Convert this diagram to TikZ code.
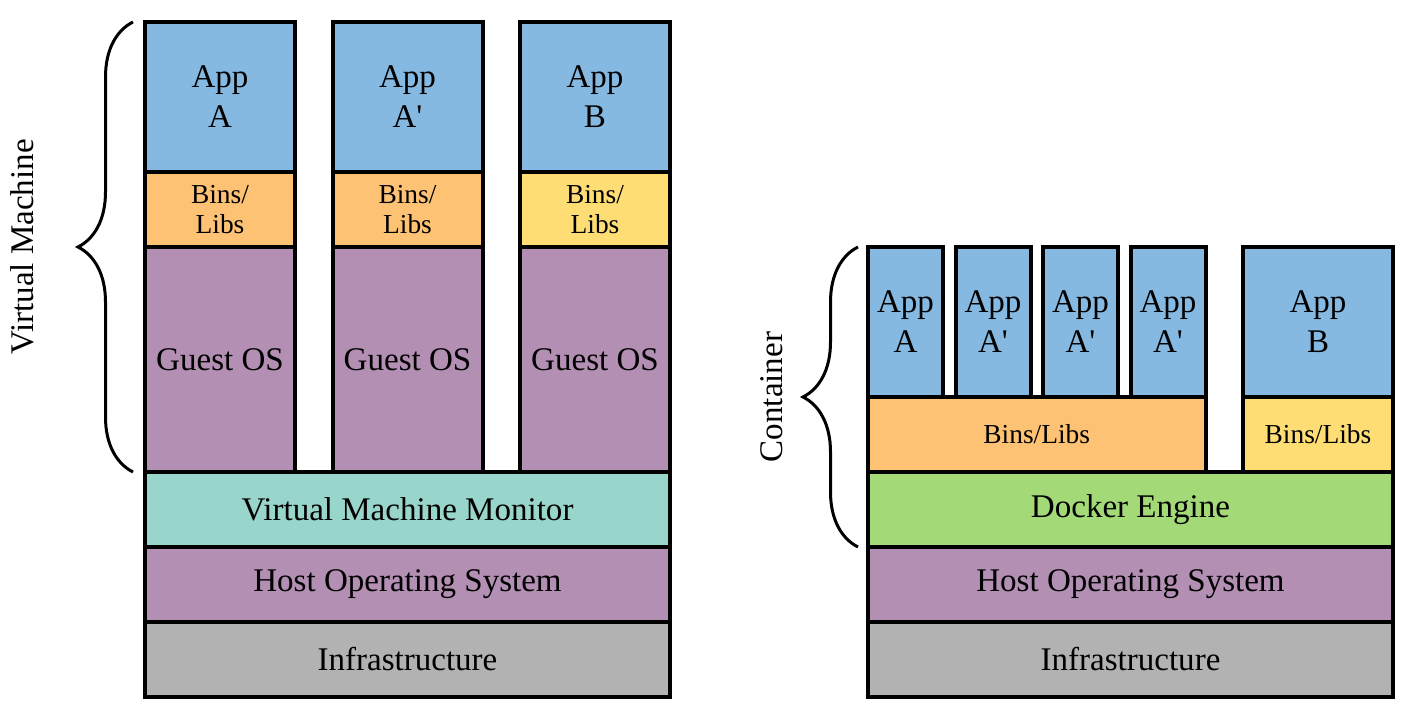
\documentclass[tikz,border=0pt]{standalone}
\usepackage{fontspec}
\setmainfont{Liberation Serif}
\usetikzlibrary{decorations.pathreplacing}
\definecolor{appblue}{HTML}{85B9E2}
\definecolor{binsorange}{HTML}{FDC273}
\definecolor{binsyellow}{HTML}{FEDD75}
\definecolor{ospurple}{HTML}{B38FB3}
\definecolor{vmmteal}{HTML}{98D5CA}
\definecolor{dockergreen}{HTML}{A3D977}
\definecolor{infragray}{HTML}{B2B2B2}
\newcommand*{\BigText}{\fontsize{18.8}{22.8}\selectfont}
\newcommand*{\SmallText}{\fontsize{15.6}{17}\selectfont}
\tikzset{
  layer/.style={draw=black, line width=0.08cm, inner sep=0pt, outer sep=0pt,
    anchor=south west, align=center, font=\BigText},
  brc/.style={decorate, decoration={brace, amplitude=1.1cm}, line width=0.06cm}
}

\begin{document}
\begin{tikzpicture}
            \useasboundingbox (0,0) rectangle (28.06,14.36);
            \foreach \x/\name/\app/\binscol in {2.9/a/A/binsorange,6.65/b/A\textquotesingle/binsorange,10.4/c/B/binsyellow}{
              \node[layer, fill=ospurple, minimum width=3cm, minimum height=4.5cm] (guest\name) at (\x,4.92) {Guest OS};
              \node[layer, fill=\binscol, minimum width=3cm, minimum height=1.5cm, font=\SmallText] (bins\name) at (\x,9.42) {Bins/\\Libs};
              \node[layer, fill=appblue, minimum width=3cm, minimum height=3cm] (app\name) at (\x,10.92) {App\\\app};
            }
            \node[layer, fill=vmmteal, minimum width=10.5cm, minimum height=1.5cm] (vmm) at (2.9,3.42) {Virtual Machine Monitor};
            \node[layer, fill=ospurple, minimum width=10.5cm, minimum height=1.5cm] (hostvm) at (2.9,1.92) {Host Operating System};
            \node[layer, fill=infragray, minimum width=10.5cm, minimum height=1.5cm] (infravm) at (2.9,0.42) {Infrastructure};
            \draw[brc] ([xshift=-0.24cm]guesta.south west) -- ([xshift=-0.24cm]appa.north west);
            \node[rotate=90, font=\BigText] (vmlabel) at (0.44,9.42) {Virtual Machine};
            \foreach \x/\name/\app in {17.36/a/A,19.11/b/A\textquotesingle,20.86/c/A\textquotesingle,22.61/d/A\textquotesingle}{
              \node[layer, fill=appblue, minimum width=1.5cm, minimum height=3cm] (capp\name) at (\x,6.42) {App\\\app};
            }
            \node[layer, fill=binsorange, minimum width=6.75cm, minimum height=1.5cm, font=\SmallText] (cbinsa) at (17.36,4.92) {Bins/Libs};
            \node[layer, fill=appblue, minimum width=3cm, minimum height=3cm] (cappe) at (24.86,6.42) {App\\B};
            \node[layer, fill=binsyellow, minimum width=3cm, minimum height=1.5cm, font=\SmallText] (cbinsb) at (24.86,4.92) {Bins/Libs};
            \node[layer, fill=dockergreen, minimum width=10.5cm, minimum height=1.5cm] (docker) at (17.36,3.42) {Docker Engine};
            \node[layer, fill=ospurple, minimum width=10.5cm, minimum height=1.5cm] (hostct) at (17.36,1.92) {Host Operating System};
            \node[layer, fill=infragray, minimum width=10.5cm, minimum height=1.5cm] (infract) at (17.36,0.42) {Infrastructure};
            \draw[brc] ([xshift=-0.2cm]docker.south west) -- ([xshift=-0.2cm]cappa.north west);
            \node[rotate=90, font=\BigText] (ctlabel) at (15.44,6.42) {Container};
          \end{tikzpicture}
\end{document}
